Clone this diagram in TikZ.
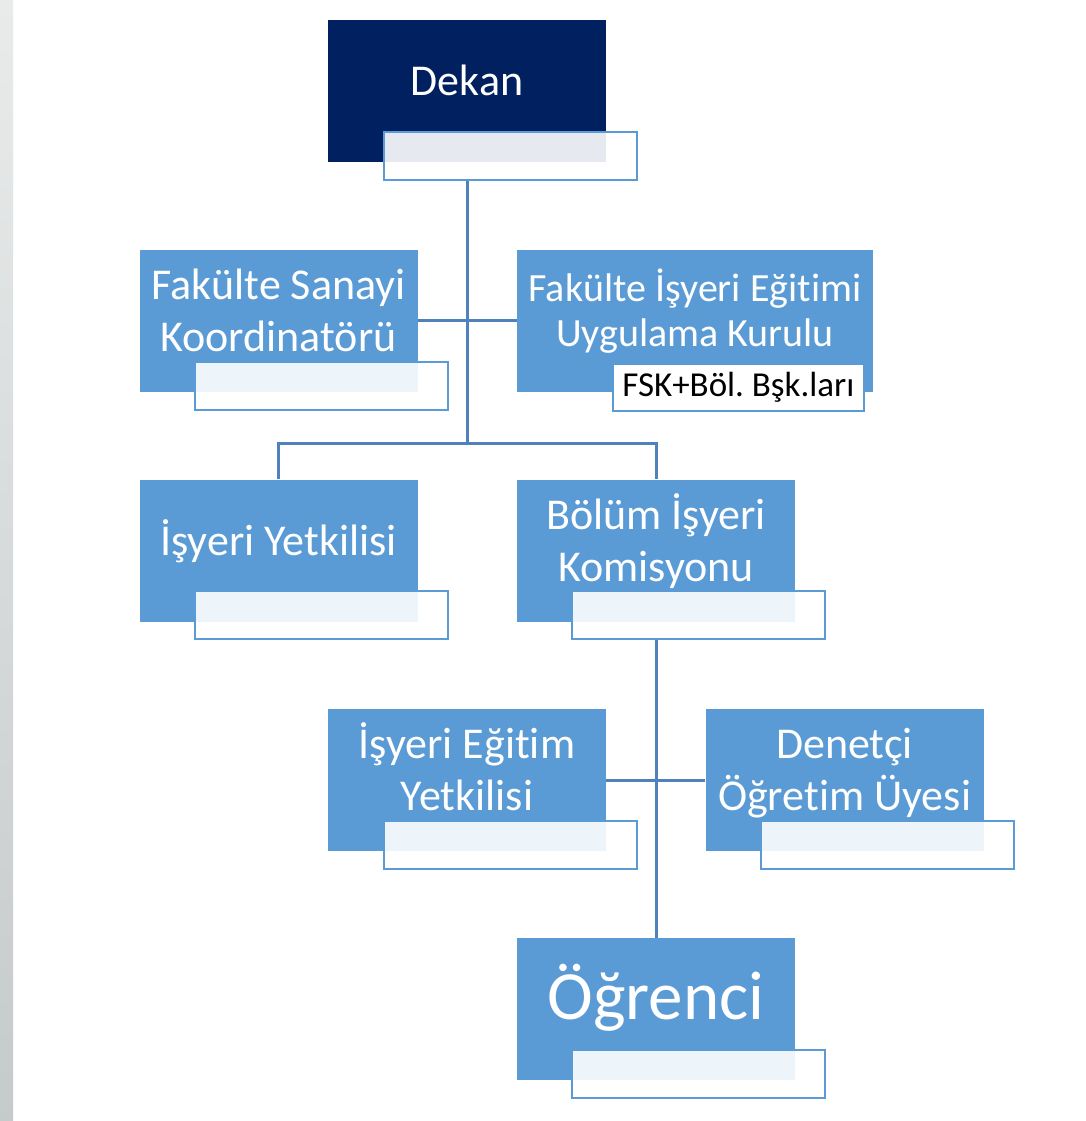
\documentclass[tikz,border=0pt]{standalone}
\usepackage{fontspec}
\setmainfont{Carlito}[Ligatures=NoCommon]
\frenchspacing
\definecolor{dekanblue}{HTML}{002060}
\definecolor{boxblue}{HTML}{5B9BD5}
\definecolor{lineblue}{HTML}{4F81BD}
\definecolor{stripTop}{HTML}{E9EBEB}
\definecolor{stripBottom}{HTML}{C5CACA}
\newcommand{\boxtext}[1]{\raisebox{-0.5pt}[0pt][0pt]{\begin{tabular}{@{}c@{}}#1\end{tabular}}}

\begin{document}
\begin{tikzpicture}[x=1pt, y=-1pt,
        main/.style={rectangle, fill=boxblue, text=white, minimum width=278pt, minimum height=142pt, inner sep=0pt, font=\fontsize{44}{52}\selectfont},
        sub/.style={rectangle, draw=boxblue, line width=2pt, fill=white, fill opacity=0.9, minimum width=253pt, minimum height=48pt, inner sep=0pt, anchor=north west},
        conn/.style={draw=lineblue, line width=3pt}]
            \fill[white] (0,0) rectangle (1086,1121);
            \useasboundingbox (0,0) rectangle (1086,1121);
            \shade[top color=stripTop, bottom color=stripBottom] (0,0) rectangle (13,1121);

            \node[main, fill=dekanblue] (dekan) at (467, 91) {\boxtext{Dekan}};
            \node[sub] (dekanSub) at (383, 131) {};

            \node[main] (koord) at (278.5, 320.5) {\boxtext{Fakülte Sanayi\\Koordinatörü}};
            \node[sub] (koordSub) at (194, 361) {};

            \node[main, minimum width=356pt, font=\fontsize{40}{45}\selectfont] (kurul) at (695, 320.5) {\boxtext{Fakülte İşyeri Eğitimi\\Uygulama Kurulu}};
            \node[sub, fill opacity=1, minimum width=251pt, minimum height=47pt, font=\fontsize{35}{42}\selectfont] (kurulSub) at (612, 363) {FSK+Böl. Bşk.ları};

            \node[main] (yetkili) at (278.5, 550.5) {\boxtext{İşyeri Yetkilisi}};
            \node[sub] (yetkiliSub) at (194, 590) {};

            \node[main] (komisyon) at (656, 550.5) {\boxtext{Bölüm İşyeri\\Komisyonu}};
            \node[sub] (komisyonSub) at (571, 590) {};

            \node[main] (egitim) at (467, 780) {\boxtext{İşyeri Eğitim\\Yetkilisi}};
            \node[sub] (egitimSub) at (383, 820) {};

            \node[main] (denetci) at (844.5, 780) {\boxtext{Denetçi\\Öğretim Üyesi}};
            \node[sub] (denetciSub) at (760, 820) {};

            \node[main, font=\fontsize{69}{83}\selectfont] (ogrenci) at (656, 1009) {\boxtext{Öğrenci}};
            \node[sub] (ogrenciSub) at (571, 1049) {};

            \coordinate (split) at (467, 443);

            \draw[conn] (dekan.south |- dekanSub.south) -- (split);
            \draw[conn] (koord) -- (kurul);
            \draw[conn] (yetkili) |- (split) -| (komisyon);
            \draw[conn] (komisyon.south |- komisyonSub.south) -- (ogrenci);
            \draw[conn] (egitim) -- (denetci);
        \end{tikzpicture}
\end{document}
